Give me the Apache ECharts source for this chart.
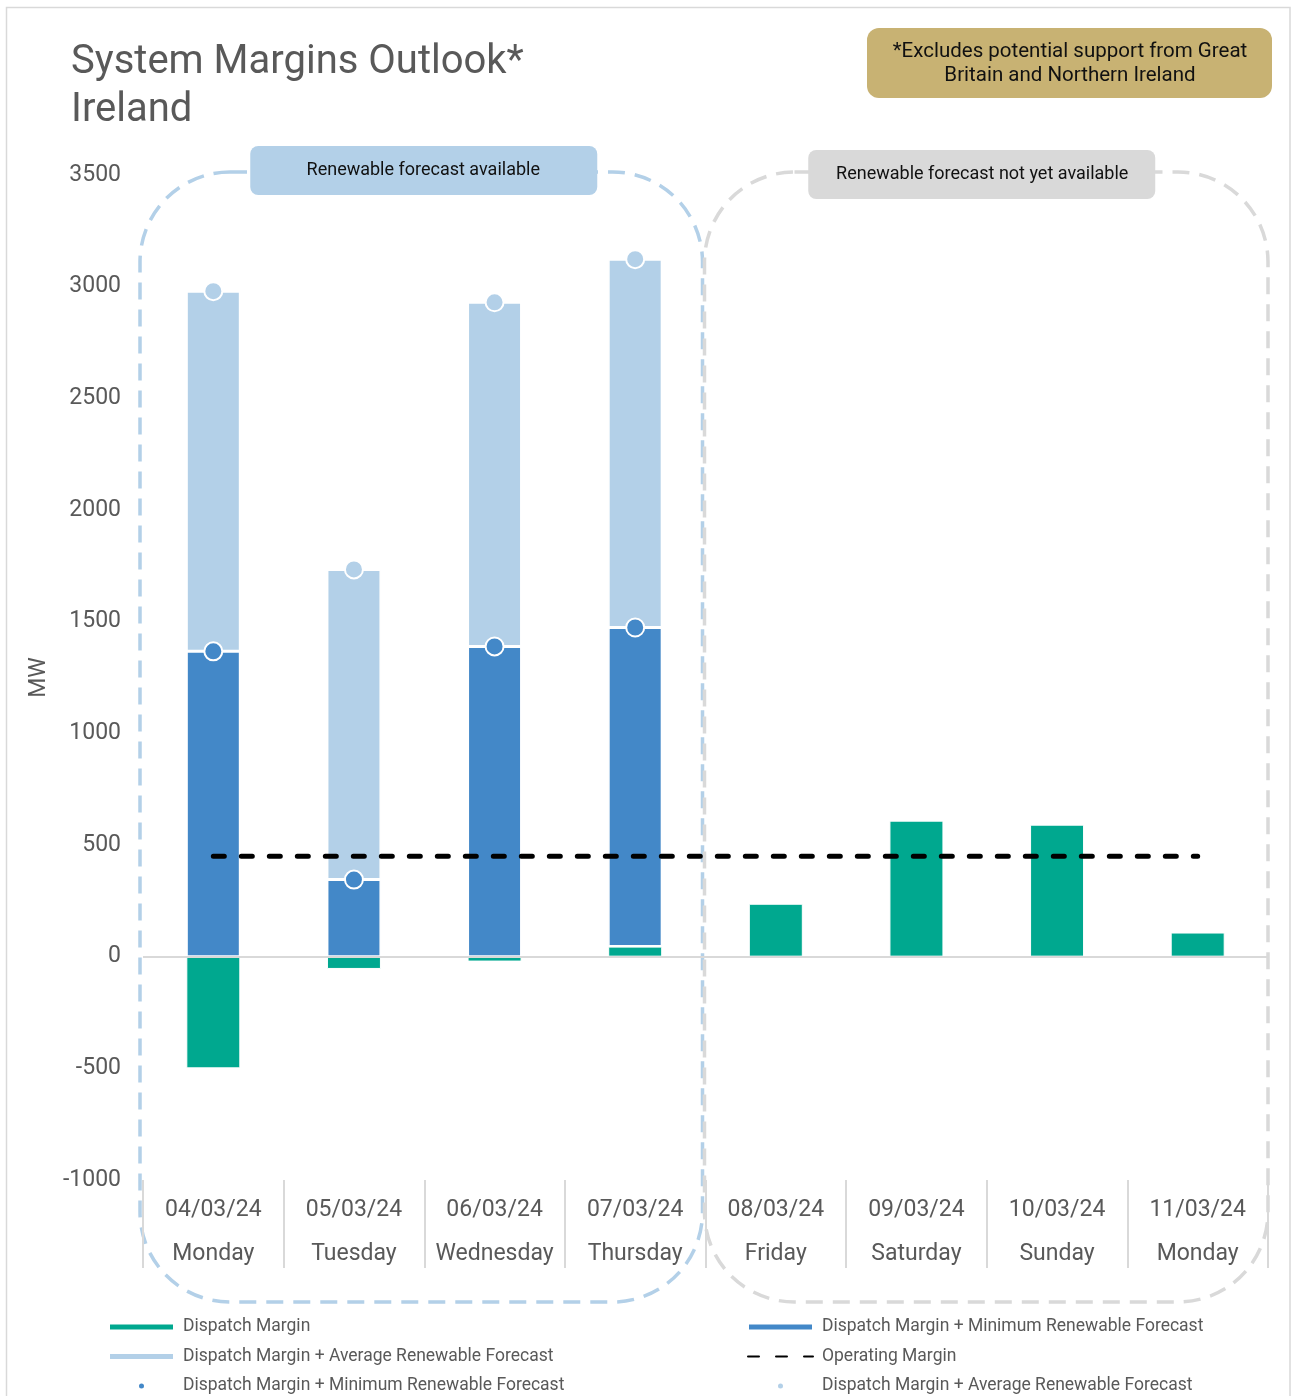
<!DOCTYPE html>
<html>
<head>
<meta charset="utf-8">
<script src="https://cdn.jsdelivr.net/npm/echarts@6/dist/echarts.min.js"></script>
<style>
html,body{margin:0;padding:0;background:#fff;}
#main{width:1292px;height:1396px;}
</style>
</head>
<body>
<div id="main"></div>
<script>
// ---- data ----
const dates = ['04/03/24','05/03/24','06/03/24','07/03/24','08/03/24','09/03/24','10/03/24','11/03/24'];
const days = ['Monday','Tuesday','Wednesday','Thursday','Friday','Saturday','Sunday','Monday'];
const dispatchMargin = [-500, -55, -22, 45, 237, 609, 591, 108];
const dmPlusMinRenewable = [1367, 345, 1389, 1474, null, null, null, null];
const dmPlusAvgRenewable = [2980, 1734, 2930, 3123, null, null, null, null];
const operatingMargin = [450, 450, 450, 450, 450, 450, 450, 450];
const yTicks = {min: -1000, max: 3500, interval: 500};

const categories = dates.map((d, i) => d + '\n' + days[i]);
// stacked segments derived from totals
const minSeg = dmPlusMinRenewable.map((v, i) => v == null ? null : v - Math.max(dispatchMargin[i], 0));
const avgSeg = dmPlusAvgRenewable.map((v, i) => v == null ? null : v - dmPlusMinRenewable[i]);

const C_GREEN = '#00a88f', C_BLUE = '#4388c8', C_LIGHT = '#b3d0e8', C_TEXT = '#595959';
const FONT = 'Roboto, "Liberation Sans", sans-serif';

const N_DM = 'Dispatch Margin';
const N_MIN = 'Dispatch Margin + Minimum Renewable Forecast';
const N_AVG = 'Dispatch Margin + Average Renewable Forecast';
const N_OM = 'Operating Margin';
const N_MIN_PT = N_MIN + ' ';
const N_AVG_PT = N_AVG + ' ';

const chart = echarts.init(document.getElementById('main'));
const legendCommon = {
  orient: 'vertical', top: 1318, padding: 0, itemWidth: 65, itemHeight: 7, itemGap: 11.5,
  textStyle: {color: C_TEXT, fontSize: 17.5, fontFamily: FONT, lineHeight: 18, padding: [0,0,0,4]},
  selectedMode: false
};
const option = {
  animation: false,
  textStyle: {fontFamily: FONT},
  title: {
    text: 'System Margins Outlook*\nIreland', left: 66, top: 34,
    textStyle: {fontSize: 40, fontWeight: 'normal', color: C_TEXT, fontFamily: FONT, lineHeight: 48}
  },
  legend: [
    Object.assign({left: 108, data: [
      {name: N_DM, icon: 'rect'},
      {name: N_AVG, icon: 'rect'},
      {name: N_MIN_PT, icon: 'circle'}
    ]}, legendCommon),
    Object.assign({left: 747, data: [
      {name: N_MIN, icon: 'rect'},
      {name: N_OM, itemStyle: {color: 'rgba(0,0,0,0)', borderColor: 'rgba(0,0,0,0)', borderWidth: 0}},
      {name: N_AVG_PT, icon: 'circle'}
    ]}, legendCommon)
  ],
  grid: {left: 143, right: 24, top: 175, bottom: 216},
  xAxis: {
    type: 'category', data: categories, boundaryGap: true,
    axisLine: {show: false, onZero: false},
    axisTick: {show: true, length: 88, interval: 0, lineStyle: {color: '#d9d9d9', width: 2}},
    axisLabel: {interval: 0, color: C_TEXT, fontSize: 23, lineHeight: 44, margin: 8, fontFamily: FONT}
  },
  yAxis: {
    type: 'value', min: yTicks.min, max: yTicks.max, interval: yTicks.interval,
    name: 'MW', nameLocation: 'middle', nameGap: 92, nameRotate: 90,
    nameTextStyle: {color: C_TEXT, fontSize: 23, fontFamily: FONT},
    axisLine: {show: false}, axisTick: {show: false}, splitLine: {show: false},
    axisLabel: {color: C_TEXT, fontSize: 23, margin: 22, fontFamily: FONT, formatter: v => String(v),
      padding: [4, 0, 0, 0]}
  },
  series: [
    {
      name: N_DM, type: 'bar', stack: 'm', data: dispatchMargin, barWidth: 54,
      itemStyle: {color: C_GREEN, borderColor: '#fff', borderWidth: 1},
      markLine: {
        silent: true, symbol: 'none', label: {show: false},
        lineStyle: {color: '#d9d9d9', width: 2, type: 'solid'},
        data: [{yAxis: 0}]
      }
    },
    {
      name: N_MIN, type: 'bar', stack: 'm', data: minSeg, barWidth: 54,
      itemStyle: {color: C_BLUE, borderColor: '#fff', borderWidth: 1.5}
    },
    {
      name: N_AVG, type: 'bar', stack: 'm', data: avgSeg, barWidth: 54,
      itemStyle: {color: C_LIGHT, borderColor: '#fff', borderWidth: 1.5}
    },
    {
      name: N_OM, type: 'line', data: operatingMargin, symbol: 'none', z: 5,
      itemStyle: {color: '#000'},
      lineStyle: {color: '#000', width: 5, type: [11, 17], cap: 'round'}
    },
    {
      name: N_MIN_PT, type: 'scatter', data: dmPlusMinRenewable, symbolSize: 18, z: 6,
      itemStyle: {color: C_BLUE, borderColor: '#fff', borderWidth: 2, opacity: 1}
    },
    {
      name: N_AVG_PT, type: 'scatter', data: dmPlusAvgRenewable, symbolSize: 18, z: 6,
      itemStyle: {color: C_LIGHT, borderColor: '#fff', borderWidth: 2, opacity: 1}
    }
  ]
};
chart.setOption(option);

// ---- decorations positioned through the axes ----
const cx = i => chart.convertToPixel({xAxisIndex: 0}, i);
const py = v => chart.convertToPixel({yAxisIndex: 0}, v);
const band = cx(1) - cx(0);
const bound = i => cx(0) - band / 2 + i * band;
const topY = py(yTicks.max) - 3;
const botY = py(yTicks.min) + 122;
const leftX0 = bound(0) - 3, leftX1 = bound(4) - 3;
const rightX0 = bound(4) - 1, rightX1 = bound(8);
const dash = [17, 10];

chart.setOption({
  graphic: [
    {type: 'rect', z: -10, silent: true, shape: {x: 6.5, y: 7.5, width: 1283.5, height: 1400},
      style: {fill: null, stroke: '#d9d9d9', lineWidth: 1.5}},
    {type: 'rect', z: 0, silent: true,
      shape: {x: leftX0, y: topY, width: leftX1 - leftX0, height: botY - topY, r: 90},
      style: {fill: null, stroke: C_LIGHT, lineWidth: 3.5, lineDash: dash}},
    {type: 'rect', z: 0, silent: true,
      shape: {x: rightX0, y: topY, width: rightX1 - rightX0, height: botY - topY, r: 90},
      style: {fill: null, stroke: '#d9d9d9', lineWidth: 3.5, lineDash: dash}},
    {type: 'rect', z: 10, silent: true,
      shape: {x: (leftX0 + leftX1) / 2 - 171, y: topY - 26, width: 347, height: 49, r: 8},
      style: {fill: C_LIGHT}},
    {type: 'text', z: 11, silent: true, x: (leftX0 + leftX1) / 2 + 2, y: topY - 1.5,
      style: {text: 'Renewable forecast available', fill: '#111', fontSize: 18, fontFamily: FONT,
        align: 'center', verticalAlign: 'middle'}},
    {type: 'rect', z: 10, silent: true,
      shape: {x: (rightX0 + rightX1) / 2 - 178, y: topY - 22, width: 347, height: 49, r: 8},
      style: {fill: '#d9d9d9'}},
    {type: 'text', z: 11, silent: true, x: (rightX0 + rightX1) / 2 - 4, y: topY + 2.5,
      style: {text: 'Renewable forecast not yet available', fill: '#111', fontSize: 18, fontFamily: FONT,
        align: 'center', verticalAlign: 'middle'}},
    {type: 'rect', z: 10, silent: true,
      shape: {x: 867, y: 28, width: 405, height: 70, r: 12},
      style: {fill: '#c8b273'}},
    {type: 'text', z: 11, silent: true, x: 1070, y: 64,
      style: {text: '*Excludes potential support from Great\nBritain and Northern Ireland', fill: '#111',
        fontSize: 20.5, lineHeight: 24, fontFamily: FONT, align: 'center', verticalAlign: 'middle'}}
  ]
});
</script>
</body>
</html>
